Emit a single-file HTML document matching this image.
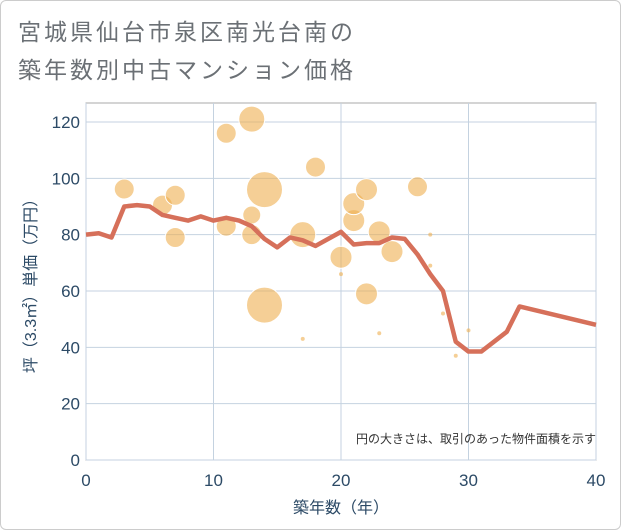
<!DOCTYPE html>
<html><head><meta charset="utf-8"><style>
body{margin:0;background:#fff;font-family:"Liberation Sans","Noto Sans CJK JP",sans-serif}
#frame{position:absolute;left:0;top:0;width:619px;height:528px;border:1px solid #ccc;border-radius:6px}
</style></head><body>
<div id="frame"></div>
<svg id="chart" width="621" height="530" style="position:absolute;left:0;top:0">
<text x="18" y="40" font-size="23" letter-spacing="3" fill="#6b7075" font-family="Liberation Sans, Noto Sans CJK JP, sans-serif">宮城県仙台市泉区南光台南の</text>
<text x="18" y="78" font-size="23" letter-spacing="3" fill="#6b7075" font-family="Liberation Sans, Noto Sans CJK JP, sans-serif">築年数別中古マンション価格</text>
<g id="grid"></g><g id="bubbles"></g><g id="line"></g><g id="axes"></g>
<text x="596" y="443" font-size="12" fill="#333" text-anchor="end" font-family="Liberation Sans, Noto Sans CJK JP, sans-serif">円の大きさは、取引のあった物件面積を示す</text>
<text x="341" y="513" font-size="16" fill="#2c4a66" text-anchor="middle" font-family="Liberation Sans, Noto Sans CJK JP, sans-serif">築年数（年）</text>
<text transform="translate(36,282) rotate(-90)" font-size="16" fill="#2c4a66" text-anchor="middle" font-family="Liberation Sans, Noto Sans CJK JP, sans-serif">坪（3.3㎡）単価（万円）</text>
</svg>
<script>
const xTicks=[0,10,20,30,40];
const yTicks=[0,20,40,60,80,100,120];
const bubbleYears=[3,6,7,7,11,13,11,13,13,14,14,17,17,18,20,20,21,21,22,22,23,23,24,26,27,27,28,29,30];
const bubbleValues=[96.2,90.5,94,79,116,121,83,87,80,96,55,80,43,104,72,66,85,91,96,59,81,45,74,97,80,69,52,37,46];
const bubbleSizes=[10,10,10,10,10,13,10,9,10,18,18,13,2,10,11,2,11,11,11,11,11,2,11,10,2,2,2,2,2];
const lineYears=[0,1,2,3,4,5,6,7,8,9,10,11,12,13,14,15,16,17,18,19,20,21,22,23,24,25,26,27,28,29,30,31,33,34,40];
const lineValues=[80,80.5,79,90,90.5,90,87,86,85,86.5,85,86,85,83,78.5,75.5,79,78,76,78.5,81,76.5,77,77,79,78.5,73,66,60,42,38.5,38.5,45.5,54.5,48];
const X0=86,X1=596,Y0=460,Y1=122;
const sx=v=>X0+(X1-X0)*v/40;
const sy=v=>Y0-(Y0-Y1)*v/120;
const NS="http://www.w3.org/2000/svg";
function mk(tag,attrs,parent){const e=document.createElementNS(NS,tag);for(const k in attrs)e.setAttribute(k,attrs[k]);parent.appendChild(e);return e;}
const grid=document.getElementById('grid'),axes=document.getElementById('axes');
mk('rect',{x:X0,y:103,width:X1-X0,height:Y0-103,fill:'none',stroke:'#aaa','stroke-width':1},grid);
xTicks.forEach(t=>{
 const l=mk('line',{x1:sx(t),x2:sx(t),y1:103,y2:Y0,stroke:'#c4d2e0','stroke-width':1},grid);
 
 
 const tx=mk('text',{x:sx(t),y:486,'font-size':17,fill:'#2c4a66','text-anchor':'middle'},axes);
 tx.textContent=t;
 
 
});
yTicks.forEach(t=>{
 const l=mk('line',{x1:X0,x2:X1,y1:sy(t),y2:sy(t),stroke:'#c4d2e0','stroke-width':1},grid);
 
 
 const tx=mk('text',{x:80,y:sy(t)+6,'font-size':17,fill:'#2c4a66','text-anchor':'end'},axes);
 tx.textContent=t;
 
 
});
const bg=document.getElementById('bubbles');
bubbleYears.forEach((yr,i)=>{
 const c=mk('circle',{cx:sx(yr),cy:sy(bubbleValues[i]),r:bubbleSizes[i],fill:'rgba(238,175,80,0.6)',stroke:'#fff','stroke-width':bubbleSizes[i]>3?1:0},bg);
 
 
});
const pts=lineYears.map((yr,i)=>sx(yr)+','+sy(lineValues[i])).join(' ');
const pl=mk('polyline',{points:pts,fill:'none',stroke:'#d6705a','stroke-width':4.5,'stroke-linejoin':'round'},document.getElementById('line'));


</script>
</body></html>
